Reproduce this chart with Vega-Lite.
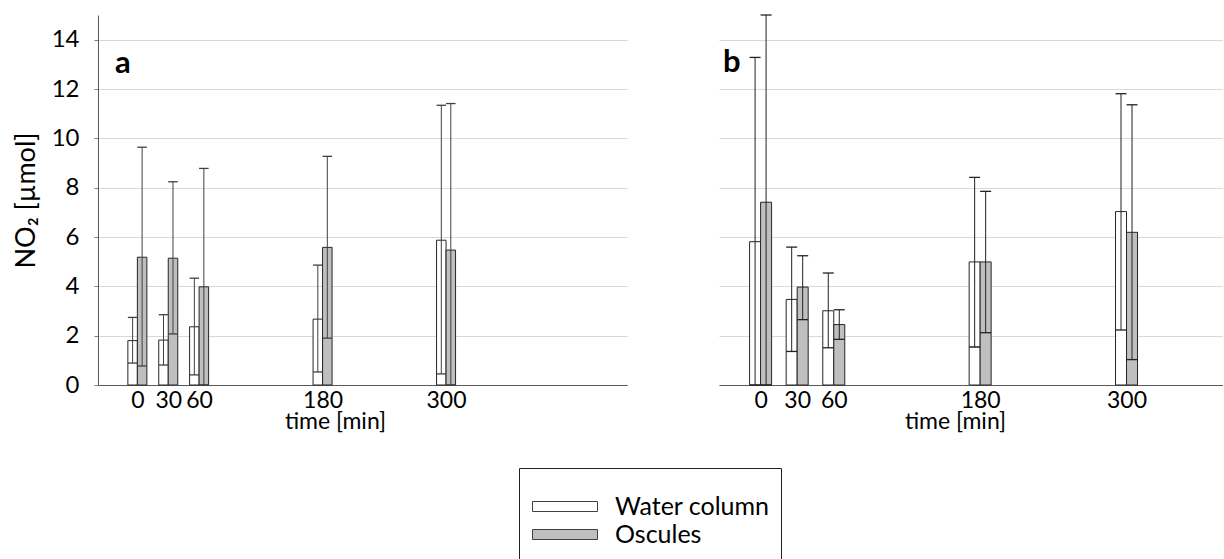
{
  "$schema": "https://vega.github.io/schema/vega-lite/v6.json",
  "background": "white",
  "padding": {"left": 12, "top": 14, "right": 0, "bottom": 0},
  "config": {
    "font": "Lato",
    "view": {"stroke": null},
    "axis": {
      "labelFont": "Lato", "titleFont": "Lato", "labelColor": "#000", "titleColor": "#000",
      "titleFontWeight": "normal", "gridColor": "#d9d9d9", "gridWidth": 1.2,
      "domainColor": "#595959", "tickColor": "#7f7f7f"
    },
    "legend": {
      "labelFont": "Lato", "labelFontSize": 25, "labelColor": "#000", "labelLimit": 400,
      "titleFont": "Lato", "titleFontSize": 14, "titlePadding": 1,
      "symbolType": "M-1,-0.5H5.5V0.5H-1Z", "symbolSize": 400,
      "symbolStrokeColor": "#404040", "symbolStrokeWidth": 1, "symbolOpacity": 1,
      "labelOffset": 60, "rowPadding": 2, "padding": 11, "strokeColor": "#222"
    }
  },
  "data": {"values": [
    {"panel": "a", "time": 0, "series": "Water column", "mean": 1.80, "lo": 0.89, "hi": 2.74},
    {"panel": "a", "time": 0, "series": "Oscules", "mean": 5.18, "lo": 0.77, "hi": 9.64},
    {"panel": "a", "time": 30, "series": "Water column", "mean": 1.82, "lo": 0.81, "hi": 2.85},
    {"panel": "a", "time": 30, "series": "Oscules", "mean": 5.14, "lo": 2.07, "hi": 8.24},
    {"panel": "a", "time": 60, "series": "Water column", "mean": 2.36, "lo": 0.41, "hi": 4.33},
    {"panel": "a", "time": 60, "series": "Oscules", "mean": 3.98, "lo": 0, "hi": 8.78},
    {"panel": "a", "time": 180, "series": "Water column", "mean": 2.67, "lo": 0.53, "hi": 4.86},
    {"panel": "a", "time": 180, "series": "Oscules", "mean": 5.58, "lo": 1.90, "hi": 9.27},
    {"panel": "a", "time": 300, "series": "Water column", "mean": 5.87, "lo": 0.45, "hi": 11.34},
    {"panel": "a", "time": 300, "series": "Oscules", "mean": 5.47, "lo": 0, "hi": 11.41},
    {"panel": "b", "time": 0, "series": "Water column", "mean": 5.81, "lo": 0, "hi": 13.28},
    {"panel": "b", "time": 0, "series": "Oscules", "mean": 7.41, "lo": 0, "hi": 15.0},
    {"panel": "b", "time": 30, "series": "Water column", "mean": 3.47, "lo": 1.36, "hi": 5.59},
    {"panel": "b", "time": 30, "series": "Oscules", "mean": 3.97, "lo": 2.65, "hi": 5.24},
    {"panel": "b", "time": 60, "series": "Water column", "mean": 3.01, "lo": 1.51, "hi": 4.54},
    {"panel": "b", "time": 60, "series": "Oscules", "mean": 2.45, "lo": 1.85, "hi": 3.05},
    {"panel": "b", "time": 180, "series": "Water column", "mean": 4.99, "lo": 1.54, "hi": 8.42},
    {"panel": "b", "time": 180, "series": "Oscules", "mean": 4.99, "lo": 2.12, "hi": 7.85},
    {"panel": "b", "time": 300, "series": "Water column", "mean": 7.03, "lo": 2.23, "hi": 11.81},
    {"panel": "b", "time": 300, "series": "Oscules", "mean": 6.19, "lo": 1.03, "hi": 11.36}
  ]},
  "spacing": 92,
  "hconcat": [
    {
      "width": 529, "height": 370,
      "title": {"text": "a", "anchor": "start", "frame": "group", "offset": -65, "dx": 17, "fontSize": 31, "fontWeight": "bold", "font": "Lato", "color": "#000"},
      "transform": [{"filter": "datum.panel == 'a'"}],
      "encoding": {
        "x": {"field": "time", "type": "quantitative", "title": "time [min]",
          "scale": {"domain": [-33.4, 471], "nice": false, "zero": false},
          "axis": {"values": [0, 30, 60, 180, 300], "grid": false, "ticks": false, "labelFontSize": 23, "titleFontSize": 23, "labelPadding": 4, "titlePadding": -2, "titleX": 237, "labelOverlap": false, "labelFlush": false}}
      },
      "layer": [
        {"transform": [{"filter": "datum.series == 'Water column'"}],
         "mark": {"type": "bar", "width": 9.5, "xOffset": -4.75, "stroke": "#262626", "strokeWidth": 1},
         "encoding": {
           "y": {"field": "mean", "type": "quantitative", "title": "NO₂ [µmol]",
             "scale": {"domain": [0, 15], "nice": false},
             "axis": {"values": [0, 2, 4, 6, 8, 10, 12, 14], "grid": true, "tickSize": 4, "labelFontSize": 24, "titleFontSize": 27, "labelPadding": 15, "titlePadding": 11}},
           "color": {"field": "series", "type": "nominal", "title": " ",
             "scale": {"domain": ["Water column", "Oscules"], "range": ["#ffffff", "#bfbfbf"]},
             "legend": {"orient": "none", "legendX": 421, "legendY": 453}}
         }},
        {"transform": [{"filter": "datum.series == 'Oscules'"}],
         "mark": {"type": "bar", "width": 9.5, "xOffset": 4.75, "stroke": "#262626", "strokeWidth": 1},
         "encoding": {
           "y": {"field": "mean", "type": "quantitative", "title": "NO₂ [µmol]"},
           "color": {"field": "series", "type": "nominal", "title": " "}
         }},
        {"transform": [{"filter": "datum.series == 'Water column'"}],
         "mark": {"type": "rule", "xOffset": -4.75, "color": "#404040", "strokeWidth": 1},
         "encoding": {"y": {"field": "lo", "type": "quantitative", "title": "NO₂ [µmol]"}, "y2": {"field": "hi"}}},
        {"transform": [{"filter": "datum.series == 'Oscules'"}],
         "mark": {"type": "rule", "xOffset": 4.75, "color": "#404040", "strokeWidth": 1},
         "encoding": {"y": {"field": "lo", "type": "quantitative", "title": "NO₂ [µmol]"}, "y2": {"field": "hi"}}},
        {"transform": [{"filter": "datum.series == 'Water column'"}],
         "mark": {"type": "tick", "orient": "horizontal", "size": 9.5, "thickness": 1.3, "xOffset": -4.75, "color": "#404040", "opacity": 1},
         "encoding": {"y": {"field": "hi", "type": "quantitative", "title": "NO₂ [µmol]"}}},
        {"transform": [{"filter": "datum.series == 'Oscules'"}],
         "mark": {"type": "tick", "orient": "horizontal", "size": 9.5, "thickness": 1.3, "xOffset": 4.75, "color": "#404040", "opacity": 1},
         "encoding": {"y": {"field": "hi", "type": "quantitative", "title": "NO₂ [µmol]"}}},
        {"transform": [{"filter": "datum.series == 'Water column'"}],
         "mark": {"type": "tick", "orient": "horizontal", "size": 9.5, "thickness": 1.3, "xOffset": -4.75, "color": "#404040", "opacity": 1},
         "encoding": {"y": {"field": "lo", "type": "quantitative", "title": "NO₂ [µmol]"}}},
        {"transform": [{"filter": "datum.series == 'Oscules'"}],
         "mark": {"type": "tick", "orient": "horizontal", "size": 9.5, "thickness": 1.3, "xOffset": 4.75, "color": "#404040", "opacity": 1},
         "encoding": {"y": {"field": "lo", "type": "quantitative", "title": "NO₂ [µmol]"}}}
      ]
    },
    {
      "width": 504, "height": 370,
      "title": {"text": "b", "anchor": "start", "frame": "group", "offset": -65, "dx": 4, "fontSize": 31, "fontWeight": "bold", "font": "Lato", "color": "#000"},
      "transform": [{"filter": "datum.panel == 'b'"}],
      "encoding": {
        "x": {"field": "time", "type": "quantitative", "title": "time [min]",
          "scale": {"domain": [-30, 375], "nice": false, "zero": false},
          "axis": {"values": [0, 30, 60, 180, 300], "grid": false, "ticks": false, "labelFontSize": 23, "titleFontSize": 23, "labelPadding": 4, "titlePadding": -2, "titleX": 236, "labelOverlap": false, "labelFlush": false}}
      },
      "layer": [
        {"transform": [{"filter": "datum.series == 'Water column'"}],
         "mark": {"type": "bar", "width": 11, "xOffset": -5.5, "stroke": "#262626", "strokeWidth": 1},
         "encoding": {
           "y": {"field": "mean", "type": "quantitative", "title": null,
             "scale": {"domain": [0, 15], "nice": false},
             "axis": {"values": [0, 2, 4, 6, 8, 10, 12, 14], "grid": true, "ticks": false, "labels": false, "domain": false}},
           "color": {"field": "series", "type": "nominal", "title": " "}
         }},
        {"transform": [{"filter": "datum.series == 'Oscules'"}],
         "mark": {"type": "bar", "width": 11, "xOffset": 5.5, "stroke": "#262626", "strokeWidth": 1},
         "encoding": {
           "y": {"field": "mean", "type": "quantitative", "title": null},
           "color": {"field": "series", "type": "nominal", "title": " "}
         }},
        {"transform": [{"filter": "datum.series == 'Water column'"}],
         "mark": {"type": "rule", "xOffset": -5.5, "color": "#222", "strokeWidth": 1},
         "encoding": {"y": {"field": "lo", "type": "quantitative", "title": null}, "y2": {"field": "hi"}}},
        {"transform": [{"filter": "datum.series == 'Oscules'"}],
         "mark": {"type": "rule", "xOffset": 5.5, "color": "#222", "strokeWidth": 1},
         "encoding": {"y": {"field": "lo", "type": "quantitative", "title": null}, "y2": {"field": "hi"}}},
        {"transform": [{"filter": "datum.series == 'Water column'"}],
         "mark": {"type": "tick", "orient": "horizontal", "size": 11, "thickness": 1.3, "xOffset": -5.5, "color": "#222", "opacity": 1},
         "encoding": {"y": {"field": "hi", "type": "quantitative", "title": null}}},
        {"transform": [{"filter": "datum.series == 'Oscules'"}],
         "mark": {"type": "tick", "orient": "horizontal", "size": 11, "thickness": 1.3, "xOffset": 5.5, "color": "#222", "opacity": 1},
         "encoding": {"y": {"field": "hi", "type": "quantitative", "title": null}}},
        {"transform": [{"filter": "datum.series == 'Water column'"}],
         "mark": {"type": "tick", "orient": "horizontal", "size": 11, "thickness": 1.3, "xOffset": -5.5, "color": "#222", "opacity": 1},
         "encoding": {"y": {"field": "lo", "type": "quantitative", "title": null}}},
        {"transform": [{"filter": "datum.series == 'Oscules'"}],
         "mark": {"type": "tick", "orient": "horizontal", "size": 11, "thickness": 1.3, "xOffset": 5.5, "color": "#222", "opacity": 1},
         "encoding": {"y": {"field": "lo", "type": "quantitative", "title": null}}}
      ]
    }
  ]
}
